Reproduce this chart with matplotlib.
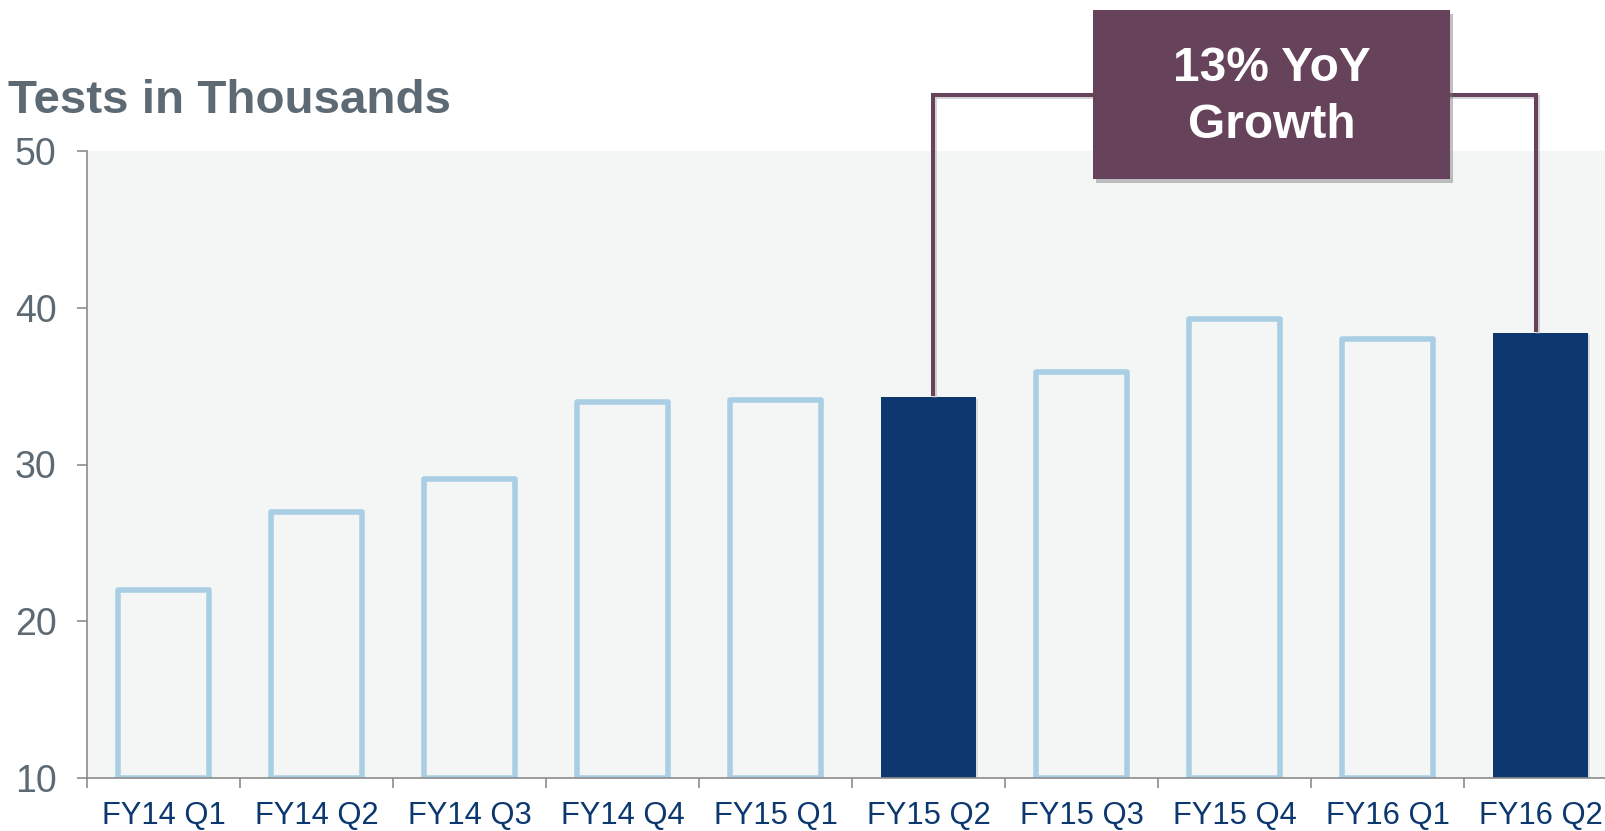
import numpy as np
import matplotlib.pyplot as plt
from matplotlib.patches import Rectangle
import matplotlib.patheffects as pe

plt.rcParams['font.family'] = ['Liberation Sans', 'DejaVu Sans']

quarters = ["FY14 Q1", "FY14 Q2", "FY14 Q3", "FY14 Q4", "FY15 Q1",
            "FY15 Q2", "FY15 Q3", "FY15 Q4", "FY16 Q1", "FY16 Q2"]
tests = [22.0, 27.0, 29.1, 34.0, 34.1, 34.3, 35.9, 39.3, 38.0, 38.4]  # thousands
highlight = ["FY15 Q2", "FY16 Q2"]
growth_label = "13% YoY\nGrowth"

navy = '#0c386f'
light = '#aacfe5'
panel = '#f4f5f5'
plum = '#66435b'
grey_txt = '#5d6a74'
axis_grey = '#8c8c8c'

y_floor = 10

fig = plt.figure(figsize=(16.06, 8.31), dpi=100)
ax = fig.add_axes([87 / 1606, 53 / 831, 1530 / 1606, 627 / 831])
ax.set_facecolor(panel)

shadow = [pe.SimplePatchShadow(offset=(1.5, -1.5), shadow_rgbFace='#b0b0b0', alpha=0.35), pe.Normal()]
for i, (q, v) in enumerate(zip(quarters, tests)):
    if q in highlight:
        b = ax.bar(i, v - y_floor, 0.62, bottom=y_floor, color=navy, zorder=2)
    else:
        b = ax.bar(i, v - y_floor, 0.6, bottom=y_floor, facecolor=panel,
                   edgecolor=light, linewidth=4, zorder=2)
        b[0].set_joinstyle('round')
    b[0].set_path_effects(shadow)

ax.set_xlim(-0.5, len(quarters) - 0.5)
ax.set_ylim(y_floor, 50)

for s in ['top', 'right']:
    ax.spines[s].set_visible(False)
for s in ['left', 'bottom']:
    ax.spines[s].set_color(axis_grey)
    ax.spines[s].set_linewidth(1.2)

ax.set_yticks([10, 20, 30, 40, 50])
ax.tick_params(axis='y', labelsize=27, labelcolor=grey_txt, color=axis_grey,
               length=7, width=1.2, pad=15)

# ticks between bars, labels under the bars
x = np.arange(len(quarters))
ax.set_xticks(np.arange(-0.5, len(quarters), 1))
ax.set_xticklabels([])
ax.set_xticks(x, minor=True)
ax.set_xticklabels(quarters, minor=True)
ax.tick_params(axis='x', which='major', color=axis_grey, length=7, width=1.2)
ax.tick_params(axis='x', which='minor', length=0, pad=16.5, labelsize=22.2,
               labelcolor=navy)

# bracket linking the two highlighted quarters
i0, i1 = quarters.index(highlight[0]), quarters.index(highlight[1])
level = 53.57
line_fx = [pe.SimpleLineShadow(offset=(1.5, -1.5), shadow_color='#999999', alpha=0.4), pe.Normal()]
ax.plot([i0 + 0.03, i0 + 0.03, i1 - 0.03, i1 - 0.03],
        [tests[i0] + 0.2, level, level, tests[i1] + 0.2],
        color=plum, lw=2.9, clip_on=False, zorder=3, solid_joinstyle='miter',
        path_effects=line_fx)

box = Rectangle((6.075, 48.2), 2.335, 10.8, facecolor=plum, edgecolor='none',
                clip_on=False, zorder=5)
box.set_path_effects([pe.SimplePatchShadow(offset=(2, -3), shadow_rgbFace='#777777', alpha=0.45),
                      pe.Normal()])
ax.add_patch(box)
ax.text(6.075 + 2.335 / 2, 53.45, growth_label, ha='center', va='center',
        fontsize=34.5, fontweight='bold', color='white', linespacing=1.32,
        zorder=6, clip_on=False)

fig.text(8 / 1606, 1 - 113 / 831, "Tests in Thousands", fontsize=34.2,
         fontweight='bold', color=grey_txt, va='baseline', ha='left')

fig.savefig('out.png', dpi=100)
